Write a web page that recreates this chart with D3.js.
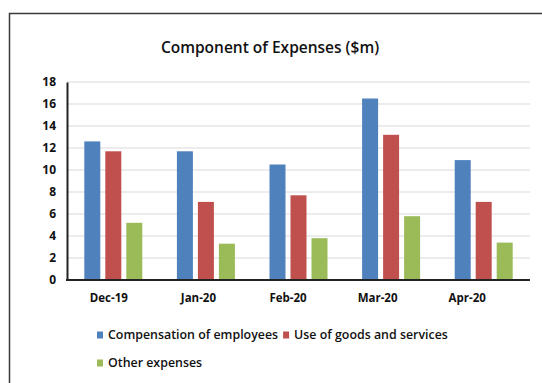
<!DOCTYPE html>
<html>
<head>
<meta charset="utf-8">
<script src="https://cdn.jsdelivr.net/npm/d3@7"></script>
<style>
  html, body { margin: 0; padding: 0; background: #fff; }
  svg { display: block; font-family: "Open Sans", "Liberation Sans", sans-serif; }
</style>
</head>
<body>
<script>
// Monthly expense components, $m
const months = ["Dec-19", "Jan-20", "Feb-20", "Mar-20", "Apr-20"];
const seriesNames = ["Compensation of employees", "Use of goods and services", "Other expenses"];
const compensation = [12.6, 11.7, 10.5, 16.5, 10.9];
const goodsServices = [11.7, 7.1, 7.7, 13.2, 7.1];
const otherExpenses = [5.2, 3.3, 3.8, 5.8, 3.4];
const yTicks = [0, 2, 4, 6, 8, 10, 12, 14, 16, 18];
const colors = ["#4F81BD", "#C0504D", "#9BBB59"];

const seriesValues = [compensation, goodsServices, otherExpenses];
const rows = months.map((m, i) => ({ month: m, values: seriesValues.map(s => s[i]) }));

const W = 542, H = 383;
const svg = d3.select("body").append("svg").attr("width", W).attr("height", H);

// Outer frame
svg.append("rect")
  .attr("x", 9.5).attr("y", 13.5)
  .attr("width", W).attr("height", H)
  .attr("fill", "#fff").attr("stroke", "#3a3a3a").attr("stroke-width", 1.5);

// Title
svg.append("text")
  .attr("x", 270).attr("y", 53)
  .attr("text-anchor", "middle")
  .attr("font-size", 15.5).attr("font-weight", 600).attr("fill", "#111")
  .text("Component of Expenses ($m)");

const plot = { left: 67, right: 530, top: 82, bottom: 280 };

const x = d3.scaleBand().domain(months).range([plot.left, plot.right]).paddingInner(0).paddingOuter(0);
const groupWidth = 58;
const xInner = d3.scaleBand().domain(d3.range(3)).range([0, groupWidth]).paddingInner(5 / 21).paddingOuter(0);
const y = d3.scaleLinear().domain([0, 18]).range([plot.bottom, plot.top]);

// Horizontal gridlines
svg.append("g")
  .selectAll("line")
  .data(yTicks.filter(t => t > 0))
  .join("line")
  .attr("x1", plot.left).attr("x2", plot.right)
  .attr("y1", d => y(d)).attr("y2", d => y(d))
  .attr("stroke", "#d9d9d9").attr("stroke-width", 1);

// Bars
const groups = svg.append("g")
  .selectAll("g")
  .data(rows)
  .join("g")
  .attr("transform", d => `translate(${x(d.month) + (x.bandwidth() - groupWidth) / 2},0)`);

groups.selectAll("rect")
  .data(d => d.values.map((v, k) => ({ v, k })))
  .join("rect")
  .attr("x", d => xInner(d.k))
  .attr("width", xInner.bandwidth())
  .attr("y", d => y(d.v))
  .attr("height", d => y(0) - y(d.v))
  .attr("fill", d => colors[d.k]);

// Y axis
const yAxis = svg.append("g")
  .attr("transform", `translate(${plot.left},0)`)
  .call(d3.axisLeft(y).tickValues(yTicks).tickSize(0).tickPadding(11));
yAxis.select(".domain").attr("stroke", "#222").attr("stroke-width", 2);
yAxis.selectAll("text")
  .attr("font-size", 12).attr("font-weight", 700).attr("fill", "#111")
  .attr("font-family", "\"Open Sans\", sans-serif");

// X axis line
svg.append("line")
  .attr("x1", plot.left - 1).attr("x2", plot.right)
  .attr("y1", y(0)).attr("y2", y(0))
  .attr("stroke", "#222").attr("stroke-width", 2);

// Month labels
const xLabels = d3.scaleBand().domain(months).range([64, 512]);
const xAxis = svg.append("g")
  .attr("transform", `translate(0,${plot.bottom})`)
  .call(d3.axisBottom(xLabels).tickSize(0).tickPadding(14));
xAxis.select(".domain").remove();
xAxis.selectAll("text")
  .attr("font-size", 11.5).attr("font-weight", 700).attr("fill", "#111")
  .attr("font-family", "\"Open Sans\", sans-serif");

// Legend: two items on the first row, one on the second
const legendRows = [[0, 1], [2]];
const legend = svg.append("g");
legendRows.forEach((items, r) => {
  let cx = 97;
  const cy = 335 + r * 28;
  items.forEach(k => {
    const g = legend.append("g").attr("transform", `translate(${cx},${cy})`);
    g.append("rect")
      .attr("x", 0).attr("y", -3.5).attr("width", 6).attr("height", 7)
      .attr("fill", colors[k]);
    const t = g.append("text")
      .attr("x", 11).attr("y", 0).attr("dy", "0.35em")
      .attr("font-size", 12.4).attr("font-weight", 600).attr("fill", "#111")
      .text(seriesNames[k]);
    cx += 11 + t.node().getComputedTextLength() + 5;
  });
});
</script>
</body>
</html>
